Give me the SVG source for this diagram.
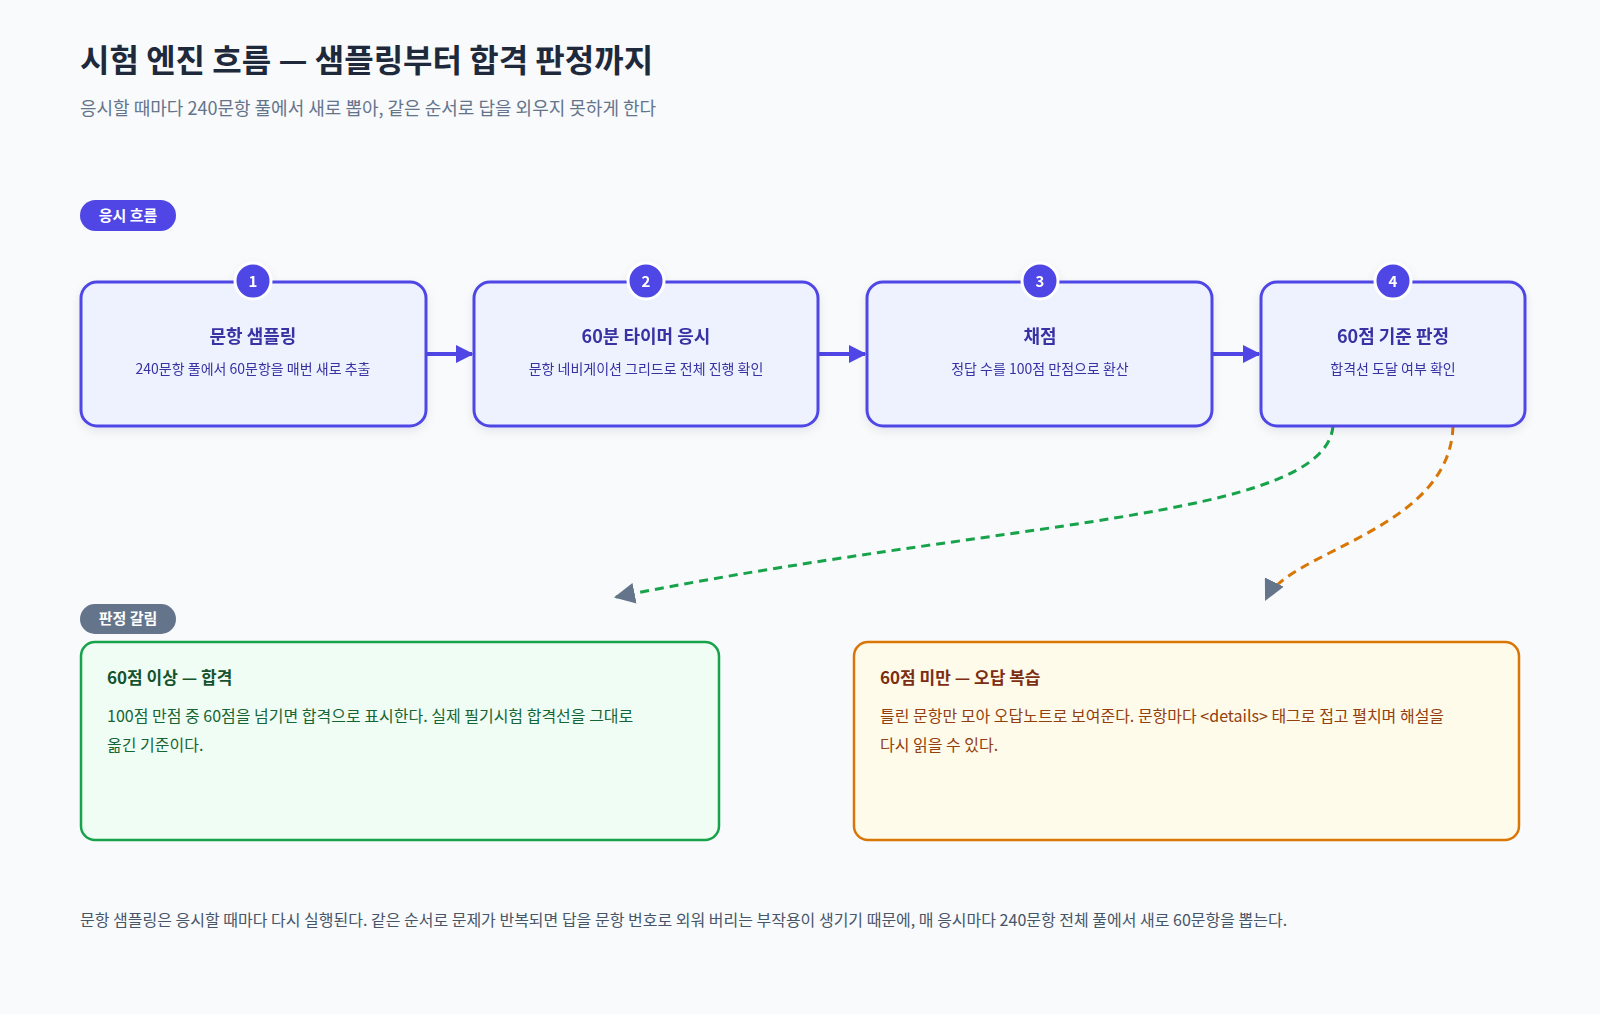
<svg xmlns="http://www.w3.org/2000/svg" width="1600" height="1014" viewBox="0 0 1600 1014">
<style>
text{font-family:"Noto Sans CJK KR","Noto Sans",sans-serif}
.step{fill:#eef2ff;stroke:#4f46e5;stroke-width:3}
.t{font-size:18px;font-weight:700;fill:#3730a3;text-anchor:middle}
.s{font-size:14px;fill:#3730a3;text-anchor:middle}
.num{fill:#4f46e5;stroke:#fff;stroke-width:3}
.nt{font-size:15px;font-weight:700;fill:#fff;text-anchor:middle}
.pill{font-size:15px;font-weight:700;fill:#fff;text-anchor:middle}
.flow{stroke:#4f46e5;stroke-width:4;fill:none}
</style>
<defs>
<marker id="ab" viewBox="0 0 10 10" refX="9" refY="5" markerWidth="4.5" markerHeight="4.5" orient="auto"><path d="M0,0L10,5L0,10z" fill="#4f46e5"/></marker>
<marker id="ag" viewBox="0 0 10 10" refX="9" refY="5" markerWidth="9" markerHeight="9" markerUnits="userSpaceOnUse" orient="auto"><path d="M0,0L10,5L0,10z" fill="#64748b"/></marker>
<marker id="ag2" viewBox="0 0 10 10" refX="9" refY="5" markerWidth="7" markerHeight="7" orient="auto"><path d="M0,0L10,5L0,10z" fill="#64748b"/></marker>
<filter id="sh" x="-10%" y="-10%" width="120%" height="130%"><feDropShadow dx="0" dy="4" stdDeviation="5" flood-color="#1e293b" flood-opacity="0.08"/></filter>
</defs>
<rect width="1600" height="1014" fill="#f8fafc"/>
<text x="80" y="72" font-size="32" font-weight="700" fill="#1e293b">시험 엔진 흐름 — 샘플링부터 합격 판정까지</text>
<text x="80" y="115" font-size="18" fill="#64748b">응시할 때마다 240문항 풀에서 새로 뽑아, 같은 순서로 답을 외우지 못하게 한다</text>
<g id="pill1"><rect x="80" y="200" width="96" height="31" rx="15.5" fill="#4f46e5"/><text class="pill" x="128" y="221">응시 흐름</text></g>
<g id="connectors">
<line class="flow" x1="426" y1="354" x2="472" y2="354" marker-end="url(#ab)"/>
<line class="flow" x1="818" y1="354" x2="865" y2="354" marker-end="url(#ab)"/>
<line class="flow" x1="1212" y1="354" x2="1259" y2="354" marker-end="url(#ab)"/>
<path d="M1333,426 C1325,520 1000,520 616,597" fill="none" stroke="#16a34a" stroke-width="3" stroke-dasharray="9,6" marker-end="url(#ag2)"/>
<path d="M1453,426 C1450,530 1290,550 1266,599" fill="none" stroke="#d97706" stroke-width="3" stroke-dasharray="9,6" marker-end="url(#ag2)"/>
</g>
<g id="n1" filter="url(#sh)"><rect class="step" x="81" y="282" width="345" height="144" rx="16"/><text class="t" x="253" y="343">문항 샘플링</text><text class="s" x="253" y="374">240문항 풀에서 60문항을 매번 새로 추출</text><circle class="num" cx="253" cy="281" r="18"/><text class="nt" x="253" y="287">1</text></g>
<g id="n2" filter="url(#sh)"><rect class="step" x="474" y="282" width="344" height="144" rx="16"/><text class="t" x="646" y="343">60분 타이머 응시</text><text class="s" x="646" y="374">문항 네비게이션 그리드로 전체 진행 확인</text><circle class="num" cx="646" cy="281" r="18"/><text class="nt" x="646" y="287">2</text></g>
<g id="n3" filter="url(#sh)"><rect class="step" x="867" y="282" width="345" height="144" rx="16"/><text class="t" x="1040" y="343">채점</text><text class="s" x="1040" y="374">정답 수를 100점 만점으로 환산</text><circle class="num" cx="1040" cy="281" r="18"/><text class="nt" x="1040" y="287">3</text></g>
<g id="n4" filter="url(#sh)"><rect class="step" x="1261" y="282" width="264" height="144" rx="16"/><text class="t" x="1393" y="343">60점 기준 판정</text><text class="s" x="1393" y="374">합격선 도달 여부 확인</text><circle class="num" cx="1393" cy="281" r="18"/><text class="nt" x="1393" y="287">4</text></g>
<g id="pill2"><rect x="80" y="604" width="96" height="30" rx="15" fill="#64748b"/><text class="pill" x="128" y="624">판정 갈림</text></g>
<g id="pass"><rect x="81" y="642" width="638" height="198" rx="14" fill="#f0fdf4" stroke="#16a34a" stroke-width="2.5"/><text x="107" y="684" font-size="17" font-weight="700" fill="#14532d">60점 이상 — 합격</text><text x="107" y="722" font-size="16" fill="#166534">100점 만점 중 60점을 넘기면 합격으로 표시한다. 실제 필기시험 합격선을 그대로</text><text x="107" y="751" font-size="16" fill="#166534">옮긴 기준이다.</text></g>
<g id="fail"><rect x="854" y="642" width="665" height="198" rx="14" fill="#fffbeb" stroke="#d97706" stroke-width="2.5"/><text x="880" y="684" font-size="17" font-weight="700" fill="#7c2d12">60점 미만 — 오답 복습</text><text x="880" y="722" font-size="16" fill="#92400e">틀린 문항만 모아 오답노트로 보여준다. 문항마다 &lt;details&gt; 태그로 접고 펼치며 해설을</text><text x="880" y="751" font-size="16" fill="#92400e">다시 읽을 수 있다.</text></g>
<text x="80" y="926" font-size="16" fill="#475569">문항 샘플링은 응시할 때마다 다시 실행된다. 같은 순서로 문제가 반복되면 답을 문항 번호로 외워 버리는 부작용이 생기기 때문에, 매 응시마다 240문항 전체 풀에서 새로 60문항을 뽑는다.</text>
</svg>
